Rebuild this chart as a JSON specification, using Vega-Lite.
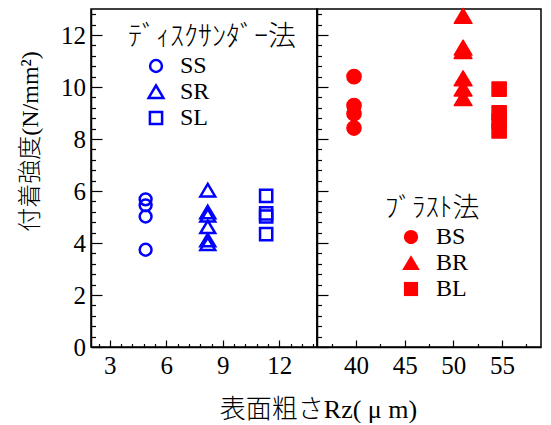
{
  "$schema": "https://vega.github.io/schema/vega-lite/v6.json",
  "background": "white",
  "padding": {"left": 17, "top": 7, "right": 0, "bottom": 0},
  "spacing": 0,
  "bounds": "flush",
  "config": {
    "view": {"stroke": "black", "strokeWidth": 1.5},
    "axis": {
      "grid": false,
      "domainColor": "black",
      "domainWidth": 1.5,
      "tickColor": "black",
      "tickWidth": 1.2,
      "labelFont": "'Times New Roman', 'Liberation Serif', Tinos",
      "labelFontSize": 25,
      "labelColor": "black",
      "titleFont": "'Times New Roman', 'Liberation Serif', 'Noto Sans CJK JP'",
      "titleFontSize": 24,
      "titleFontWeight": 300,
      "titleColor": "black"
    },
    "legend": {
      "padding": 0,
      "titleFont": "'Noto Sans CJK JP'",
      "titleFontSize": 27,
      "titleFontWeight": 300,
      "titleColor": "black",
      "labelFont": "'Times New Roman', 'Liberation Serif', Tinos",
      "labelFontSize": 24,
      "labelColor": "black"
    }
  },
  "resolve": {"scale": {"shape": "independent"}, "legend": {"shape": "independent"}},
  "hconcat": [
    {
      "width": 226,
      "height": 338,
      "data": {"values": [
        {"rz": 4.9, "strength": 5.68, "type": "SS"},
        {"rz": 4.9, "strength": 5.45, "type": "SS"},
        {"rz": 4.9, "strength": 5.02, "type": "SS"},
        {"rz": 4.9, "strength": 3.74, "type": "SS"},
        {"rz": 8.2, "strength": 6.02, "type": "SR"},
        {"rz": 8.2, "strength": 5.18, "type": "SR"},
        {"rz": 8.2, "strength": 5.05, "type": "SR"},
        {"rz": 8.2, "strength": 4.61, "type": "SR"},
        {"rz": 8.2, "strength": 4.10, "type": "SR"},
        {"rz": 8.2, "strength": 3.96, "type": "SR"},
        {"rz": 11.3, "strength": 5.81, "type": "SL"},
        {"rz": 11.3, "strength": 5.14, "type": "SL"},
        {"rz": 11.3, "strength": 5.02, "type": "SL"},
        {"rz": 11.3, "strength": 4.34, "type": "SL"}
      ]},
      "mark": {"type": "point", "filled": false, "color": "#0000ff", "strokeWidth": 2.5, "size": 140, "opacity": 1},
      "encoding": {
        "x": {
          "field": "rz", "type": "quantitative",
          "scale": {"domain": [2, 14], "nice": false, "zero": false},
          "axis": {
            "values": [2.4,3,3.6,4.2,4.8,5.4,6,6.6,7.2,7.8,8.4,9,9.6,10.2,10.8,11.4,12,12.6,13.2,13.8],
            "labelExpr": "abs(datum.value/3 - round(datum.value/3)) < 0.001 ? '' + datum.value : ''",
            "tickSize": {"condition": {"test": "abs(datum.value/3 - round(datum.value/3)) < 0.001", "value": -7}, "value": -3.5},
            "labelPadding": 13,
            "title": "表面粗さRz( μ m)",
            "titleFontSize": 26,
            "titleX": 227,
            "titleY": 49
          }
        },
        "y": {
          "field": "strength", "type": "quantitative",
          "scale": {"domain": [0, 13], "nice": false, "zero": false},
          "axis": {
            "values": [0,0.4,0.8,1.2,1.6,2,2.4,2.8,3.2,3.6,4,4.4,4.8,5.2,5.6,6,6.4,6.8,7.2,7.6,8,8.4,8.8,9.2,9.6,10,10.4,10.8,11.2,11.6,12,12.4,12.8],
            "labelExpr": "abs(datum.value/2 - round(datum.value/2)) < 0.001 ? '' + datum.value : ''",
            "tickSize": {"condition": {"test": "abs(datum.value/2 - round(datum.value/2)) < 0.001", "value": -11}, "value": -4.5},
            "labelPadding": 16.5,
            "title": "付着強度(N/mm²)",
            "titlePadding": 18,
            "titleY": 132
          }
        },
        "shape": {
          "field": "type", "type": "nominal",
          "scale": {
            "domain": ["SS", "SR", "SL"],
            "range": ["M1,0A1,1,0,1,1,-1,0A1,1,0,1,1,1,0Z", "M0,-1.1L1.25,1L-1.25,1Z", "M-1.03,-1.03L1.03,-1.03L1.03,1.03L-1.03,1.03Z"]
          },
          "legend": {
            "title": "ﾃﾞｨｽｸｻﾝﾀﾞｰ法",
            "orient": "none",
            "legendX": 37,
            "legendY": 15,
            "titlePadding": 2,
            "titleFontSize": 28,
            "symbolSize": 140,
            "symbolStrokeWidth": 2.5,
            "symbolStrokeColor": "#0000ff",
            "symbolFillColor": "transparent",
            "symbolOffset": 16,
            "labelOffset": 12,
            "rowPadding": 2
          }
        }
      }
    },
    {
      "width": 224,
      "height": 338,
      "data": {"values": [
        {"rz": 39.8, "strength": 10.40, "type": "BS"},
        {"rz": 39.8, "strength": 9.29, "type": "BS"},
        {"rz": 39.8, "strength": 8.97, "type": "BS"},
        {"rz": 39.8, "strength": 8.42, "type": "BS"},
        {"rz": 51.0, "strength": 12.72, "type": "BR"},
        {"rz": 51.0, "strength": 11.50, "type": "BR"},
        {"rz": 51.0, "strength": 11.37, "type": "BR"},
        {"rz": 51.0, "strength": 10.32, "type": "BR"},
        {"rz": 51.0, "strength": 9.93, "type": "BR"},
        {"rz": 51.0, "strength": 9.56, "type": "BR"},
        {"rz": 54.7, "strength": 9.92, "type": "BL"},
        {"rz": 54.7, "strength": 9.01, "type": "BL"},
        {"rz": 54.7, "strength": 8.68, "type": "BL"},
        {"rz": 54.7, "strength": 8.31, "type": "BL"}
      ]},
      "mark": {"type": "point", "filled": true, "color": "#ff0000", "stroke": "#ff0000", "strokeWidth": 1.5, "strokeJoin": "round", "size": 200, "opacity": 1},
      "encoding": {
        "x": {
          "field": "rz", "type": "quantitative",
          "scale": {"domain": [36, 59], "nice": false, "zero": false},
          "axis": {
            "values": [37.5,40,42.5,45,47.5,50,52.5,55,57.5],
            "labelExpr": "abs(datum.value/5 - round(datum.value/5)) < 0.001 ? '' + datum.value : ''",
            "tickSize": {"condition": {"test": "abs(datum.value/5 - round(datum.value/5)) < 0.001", "value": -7}, "value": -3.5},
            "labelPadding": 13,
            "title": null
          }
        },
        "y": {
          "field": "strength", "type": "quantitative",
          "scale": {"domain": [0, 13], "nice": false, "zero": false},
          "axis": {
            "values": [0,0.4,0.8,1.2,1.6,2,2.4,2.8,3.2,3.6,4,4.4,4.8,5.2,5.6,6,6.4,6.8,7.2,7.6,8,8.4,8.8,9.2,9.6,10,10.4,10.8,11.2,11.6,12,12.4,12.8],
            "labels": false,
            "tickSize": {"condition": {"test": "abs(datum.value/2 - round(datum.value/2)) < 0.001", "value": -11}, "value": -4.5},
            "title": null
          }
        },
        "shape": {
          "field": "type", "type": "nominal",
          "scale": {
            "domain": ["BS", "BR", "BL"],
            "range": ["M1,0A1,1,0,1,1,-1,0A1,1,0,1,1,1,0Z", "M0,-1.1L1.25,1L-1.25,1Z", "M-1,-1L1,-1L1,1L-1,1Z"]
          },
          "legend": {
            "title": "ﾌﾞﾗｽﾄ法",
            "orient": "none",
            "legendX": 68,
            "legendY": 187,
            "titlePadding": 2,
            "symbolSize": 200,
            "symbolStrokeWidth": 1.5,
            "symbolStrokeColor": "#ff0000",
            "symbolFillColor": "#ff0000",
            "symbolOffset": 14,
            "labelOffset": 13,
            "rowPadding": 2
          }
        }
      }
    }
  ]
}
